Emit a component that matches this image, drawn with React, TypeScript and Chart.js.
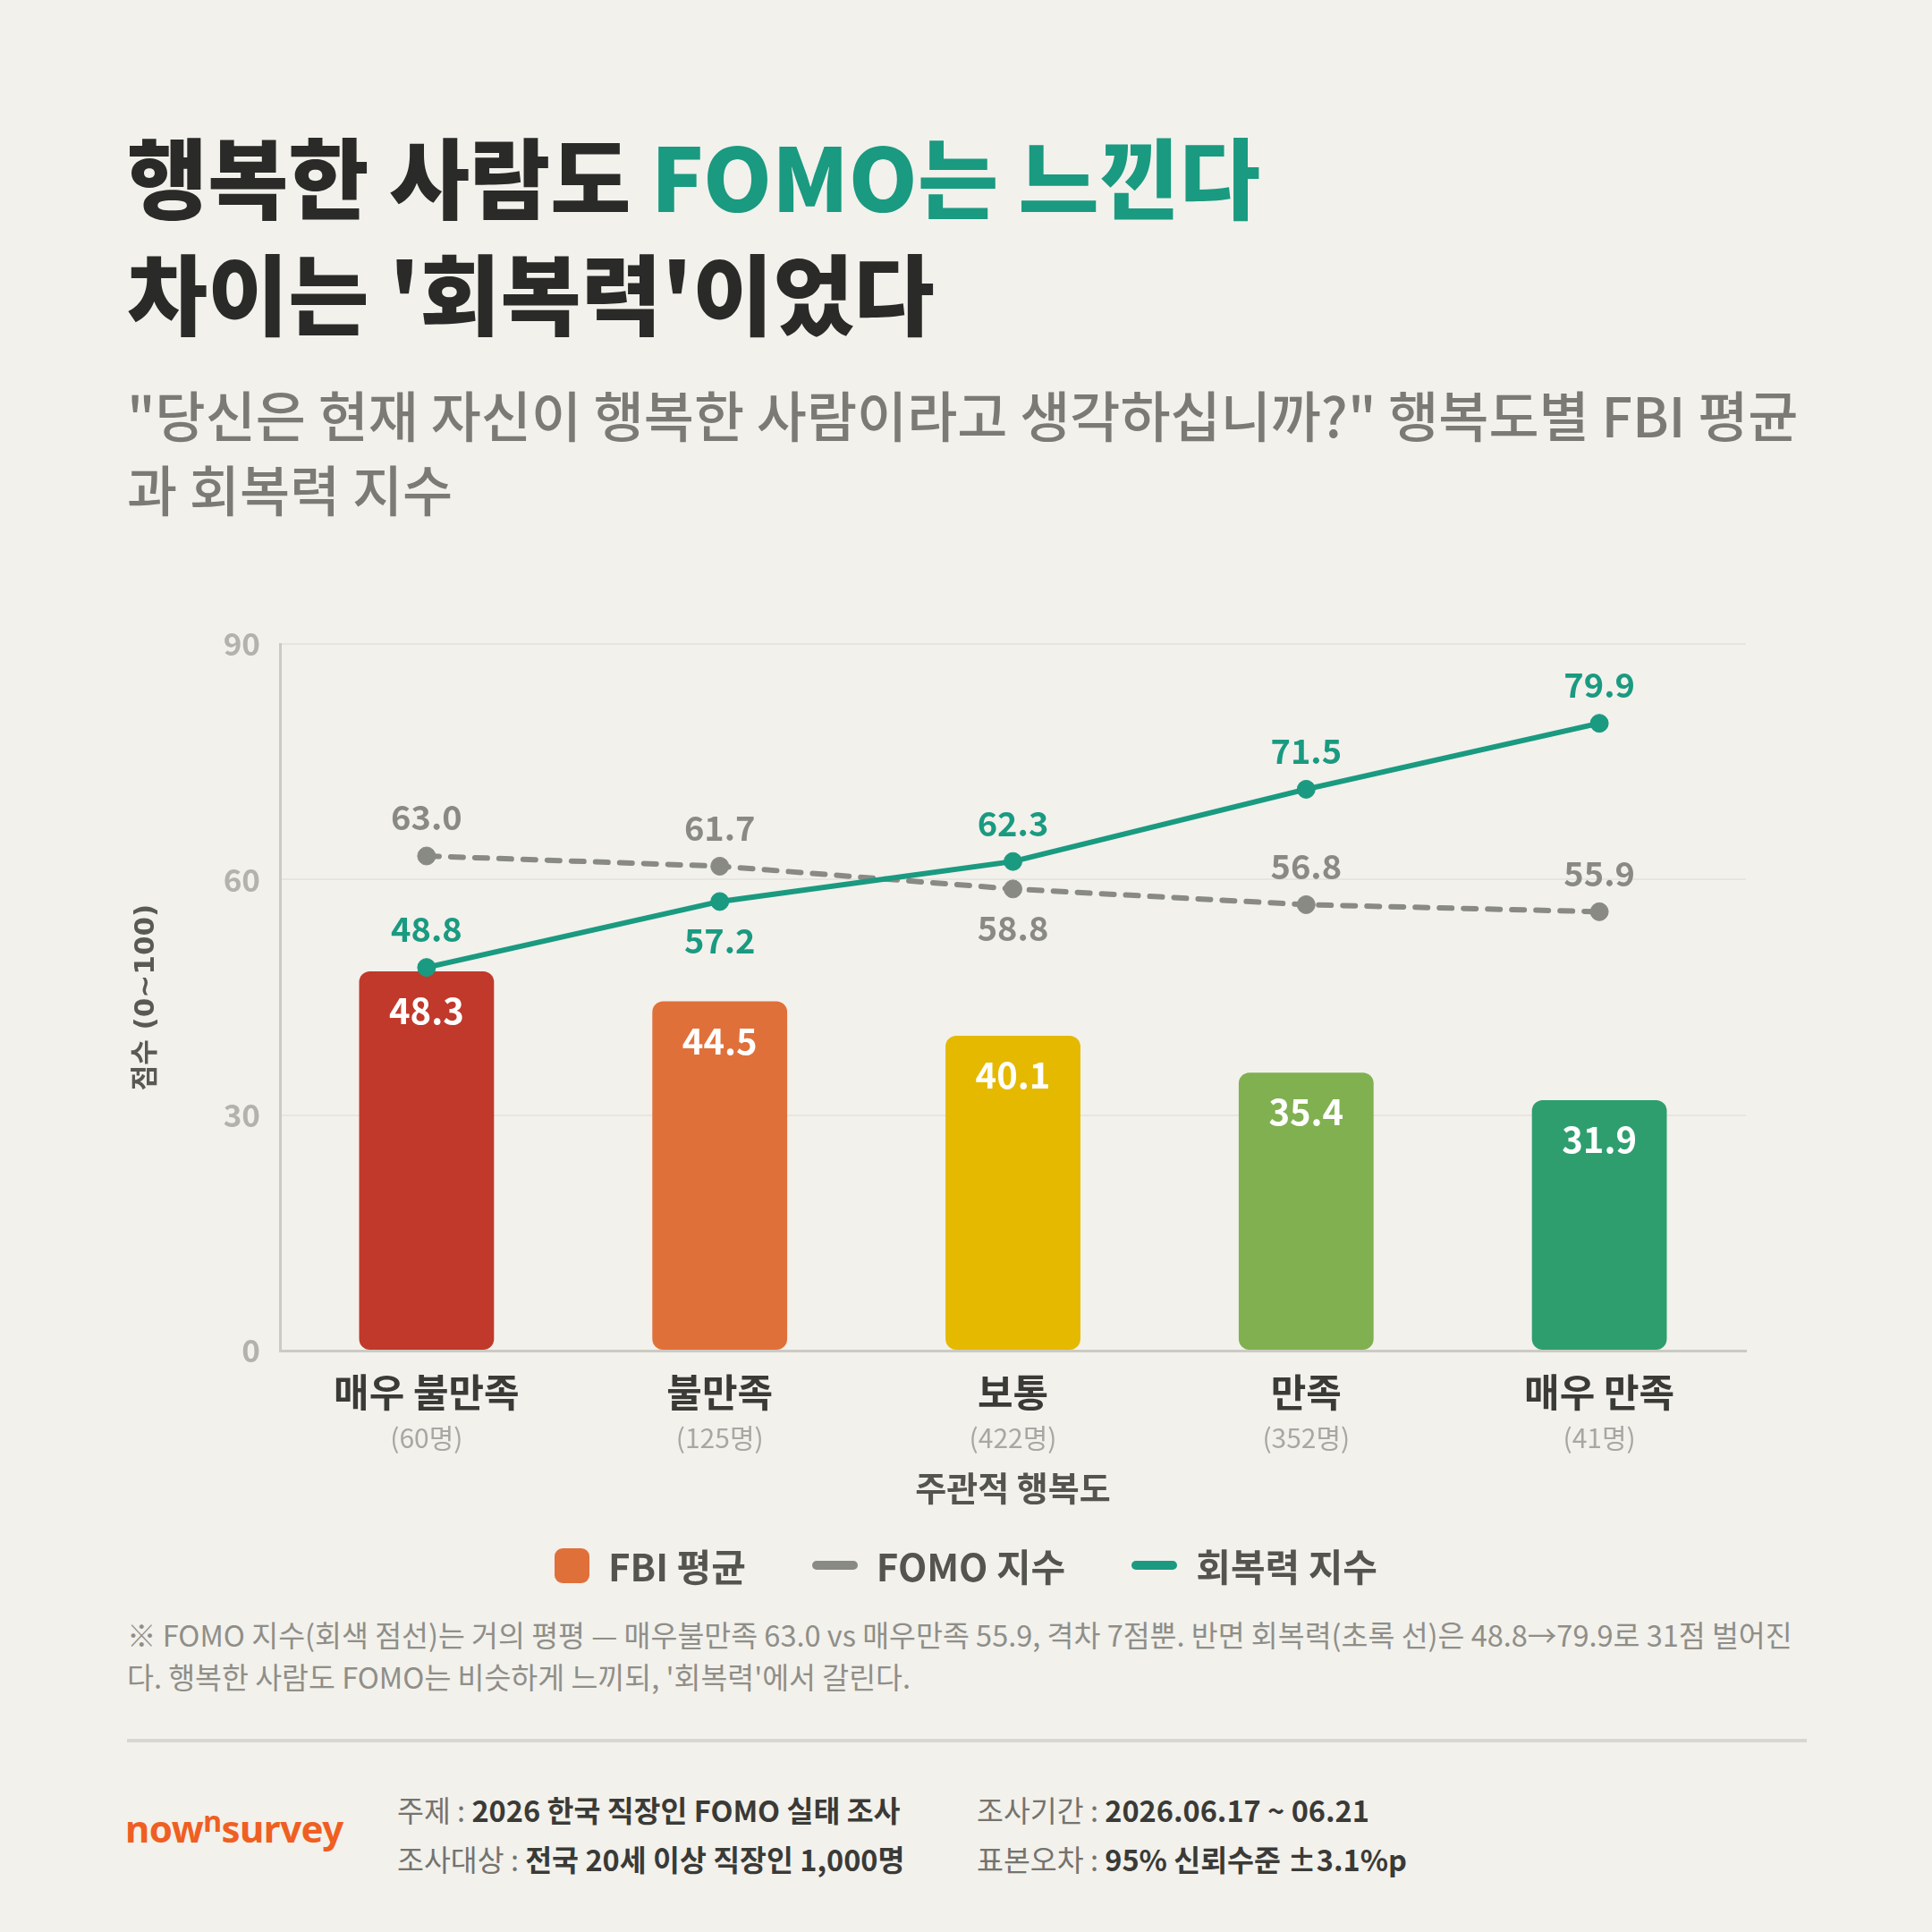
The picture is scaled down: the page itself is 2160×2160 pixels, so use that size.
import React, { useEffect, useRef } from 'react';
import { Chart, registerables } from 'chart.js';

Chart.register(...registerables);

const FONT = "'Noto Sans CJK KR', 'Noto Sans', sans-serif";

const categories = ['매우 불만족', '불만족', '보통', '만족', '매우 만족'];
const sampleCounts = ['(60명)', '(125명)', '(422명)', '(352명)', '(41명)'];
const fbiValues = [48.3, 44.5, 40.1, 35.4, 31.9];
const fomoValues = [63.0, 61.7, 58.8, 56.8, 55.9];
const resilienceValues = [48.8, 57.2, 62.3, 71.5, 79.9];
const barColors = ['#c0392b', '#e0703a', '#e5b900', '#80b050', '#2e9e6e'];
const fomoLabelSide = ['top', 'top', 'bottom', 'top', 'top'];
const resilienceLabelSide = ['top', 'bottom', 'top', 'top', 'top'];
const seriesNames = ['FBI 평균', 'FOMO 지수', '회복력 지수'];
const yMin = 0;
const yMax = 90;
const yStep = 30;

const TEAL = '#1a9a80';
const GRAY = '#8a8a85';

const valueLabelPlugin = {
  id: 'valueLabels',
  afterDatasetsDraw(chart: any) {
    const ctx = chart.ctx;
    ctx.save();
    ctx.textAlign = 'center';
    ctx.textBaseline = 'middle';
    chart.data.datasets.forEach((ds: any, di: number) => {
      const meta = chart.getDatasetMeta(di);
      meta.data.forEach((el: any, i: number) => {
        const text = Number(ds.data[i]).toFixed(1);
        if (ds.type === 'bar') {
          ctx.font = `700 40px ${FONT}`;
          ctx.fillStyle = '#ffffff';
          ctx.fillText(text, el.x, el.y + 44);
        } else {
          const sides = ds.label === seriesNames[1] ? fomoLabelSide : resilienceLabelSide;
          ctx.font = `700 38px ${FONT}`;
          ctx.fillStyle = ds.borderColor;
          const dy = sides[i] === 'top' ? -43 : 44;
          ctx.fillText(text, el.x, el.y + dy);
        }
      });
    });
    ctx.restore();
  },
};

const subLabelPlugin = {
  id: 'subLabels',
  afterDraw(chart: any) {
    const ctx = chart.ctx;
    const xs = chart.scales.x;
    ctx.save();
    ctx.textAlign = 'center';
    ctx.textBaseline = 'middle';
    ctx.font = `400 30px ${FONT}`;
    ctx.fillStyle = '#a8a7a0';
    sampleCounts.forEach((s, i) => {
      ctx.fillText(s, xs.getPixelForValue(i), xs.top + 98);
    });
    ctx.restore();
  },
};

function ChartCanvas() {
  const ref = useRef<HTMLCanvasElement | null>(null);
  useEffect(() => {
    if (!ref.current) return;
    const chart = new Chart(ref.current, {
      type: 'bar',
      data: {
        labels: categories,
        datasets: [
          {
            type: 'line',
            label: seriesNames[2],
            data: resilienceValues,
            borderColor: TEAL,
            backgroundColor: TEAL,
            borderWidth: 6,
            pointRadius: 10,
            pointBackgroundColor: TEAL,
            pointBorderColor: TEAL,
            pointBorderWidth: 1,
            tension: 0,
            order: 1,
          } as any,
          {
            type: 'line',
            label: seriesNames[1],
            data: fomoValues,
            borderColor: GRAY,
            backgroundColor: GRAY,
            borderWidth: 6,
            borderDash: [14, 13],
            borderCapStyle: 'round',
            pointRadius: 10,
            pointBackgroundColor: GRAY,
            pointBorderColor: GRAY,
            pointBorderWidth: 1,
            tension: 0,
            order: 2,
          } as any,
          {
            type: 'bar',
            label: seriesNames[0],
            data: fbiValues,
            backgroundColor: barColors,
            borderRadius: 12,
            borderSkipped: false,
            barPercentage: 0.46,
            categoryPercentage: 1,
            order: 3,
          } as any,
        ],
      },
      options: {
        animation: false,
        responsive: false,
        maintainAspectRatio: false,
        layout: { padding: { left: 0, right: 208, top: 80, bottom: 30 } },
        plugins: {
          legend: { display: false },
          tooltip: { enabled: false },
          title: { display: false },
        },
        scales: {
          x: {
            offset: true,
            grid: { display: false, drawTicks: false },
            border: { display: true, color: '#cbcac3', width: 3 },
            ticks: {
              color: '#3a3a37',
              font: { family: FONT, size: 43, weight: '700' },
              padding: 21,
              maxRotation: 0,
              autoSkip: false,
            },
            title: {
              display: true,
              text: '주관적 행복도',
              color: '#55554f',
              font: { family: FONT, size: 38, weight: '700' },
              padding: { top: 0, bottom: 24 },
            },
            afterFit: (s: any) => {
              s.height = 200;
            },
          },
          y: {
            min: yMin,
            max: yMax,
            grid: { color: '#e6e5df', lineWidth: 2, drawTicks: false },
            border: { display: true, color: '#cbcac3', width: 3 },
            ticks: {
              stepSize: yStep,
              color: '#b3b2ab',
              font: { family: FONT, size: 35, weight: '600' },
              padding: 22,
            },
            title: {
              display: true,
              text: '점수 (0~100)',
              color: '#5a5a55',
              font: { family: "'DejaVu Sans', 'Noto Sans CJK KR', sans-serif", size: 31, weight: '700' },
              padding: { top: 145, bottom: 0 },
            },
            afterFit: (s: any) => {
              s.width = 313;
            },
          },
        },
      },
      plugins: [valueLabelPlugin, subLabelPlugin],
    });
    return () => chart.destroy();
  }, []);
  return (
    <canvas
      ref={ref}
      width={2160}
      height={1100}
      style={{ position: 'absolute', left: 0, top: 640, width: 2160, height: 1100 }}
    />
  );
}

const legendItems = [
  { name: seriesNames[0], kind: 'box', color: '#e0703a' },
  { name: seriesNames[1], kind: 'line', color: GRAY },
  { name: seriesNames[2], kind: 'line', color: TEAL },
];

export default function App() {
  return (
    <div
      style={{
        position: 'relative',
        width: 2160,
        height: 2160,
        background: '#f2f1ec',
        overflow: 'hidden',
        fontFamily: FONT,
      }}
    >
      <style>{`html,body{margin:0;padding:0;background:#f2f1ec;}`}</style>
      <div
        style={{
          position: 'absolute',
          left: 142,
          top: 129,
          fontSize: 98,
          lineHeight: '130px',
          fontWeight: 900,
          color: '#2a2a29',
          whiteSpace: 'nowrap',
        }}
      >
        <div>
          행복한 사람도 <span style={{ color: TEAL }}>FOMO는 느낀다</span>
        </div>
        <div>차이는 '회복력'이었다</div>
      </div>
      <div
        style={{
          position: 'absolute',
          left: 142,
          top: 421,
          width: 1876,
          fontSize: 61,
          lineHeight: '83px',
          fontWeight: 500,
          color: '#7b7a75',
        }}
      >
        "당신은 현재 자신이 행복한 사람이라고 생각하십니까?" 행복도별 FBI 평균과 회복력 지수
      </div>

      <ChartCanvas />

      <div
        style={{
          position: 'absolute',
          left: 0,
          width: 2160,
          top: 1720,
          height: 60,
          display: 'flex',
          justifyContent: 'center',
          alignItems: 'center',
          gap: 74,
        }}
      >
        {legendItems.map((it) => (
          <div key={it.name} style={{ display: 'flex', alignItems: 'center', gap: 21 }}>
            {it.kind === 'box' ? (
              <div style={{ width: 39, height: 39, borderRadius: 9, background: it.color }} />
            ) : (
              <div style={{ width: 51, height: 10, borderRadius: 5, background: it.color }} />
            )}
            <span style={{ fontSize: 42, fontWeight: 700, color: '#555550', lineHeight: '60px' }}>{it.name}</span>
          </div>
        ))}
      </div>

      <div
        style={{
          position: 'absolute',
          left: 142,
          top: 1803,
          width: 1876,
          fontSize: 32.5,
          lineHeight: '47px',
          fontWeight: 400,
          color: '#8f8e88',
        }}
      >
        ※ FOMO 지수(회색 점선)는 거의 평평 — 매우불만족 63.0 vs 매우만족 55.9, 격차 7점뿐. 반면 회복력(초록 선)은 48.8→79.9로 31점 벌어진다. 행복한 사람도 FOMO는 비슷하게 느끼되, '회복력'에서 갈린다.
      </div>

      <div style={{ position: 'absolute', left: 142, top: 1944, width: 1878, height: 4, background: '#d8d7d1' }} />

      <div
        style={{
          position: 'absolute',
          left: 140,
          top: 2014,
          fontSize: 42,
          lineHeight: '60px',
          fontWeight: 700,
          color: '#ef5f22',
          fontFamily: "'Noto Sans', sans-serif",
          letterSpacing: -0.5,
          whiteSpace: 'nowrap',
        }}
      >
        now<span style={{ fontSize: 32, position: 'relative', top: -12 }}>n</span>survey
      </div>

      {[
        { x: 444, y: 2003, k: '주제', v: '2026 한국 직장인 FOMO 실태 조사' },
        { x: 444, y: 2058, k: '조사대상', v: '전국 20세 이상 직장인 1,000명' },
        { x: 1092, y: 2003, k: '조사기간', v: '2026.06.17 ~ 06.21' },
        { x: 1092, y: 2058, k: '표본오차', v: '95% 신뢰수준 ±3.1%p' },
      ].map((r) => (
        <div
          key={r.k}
          style={{
            position: 'absolute',
            left: r.x,
            top: r.y,
            fontSize: 32.5,
            lineHeight: '40px',
            whiteSpace: 'nowrap',
          }}
        >
          <span style={{ color: '#74736e', fontWeight: 400 }}>{r.k} : </span>
          <span style={{ color: '#3a3a37', fontWeight: 700 }}>{r.v}</span>
        </div>
      ))}
    </div>
  );
}
